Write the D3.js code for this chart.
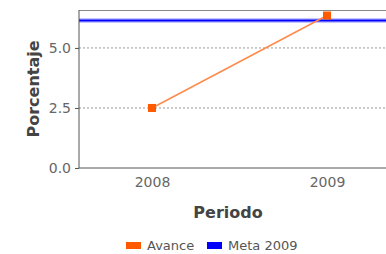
<!DOCTYPE html>
<html><head><meta charset="utf-8">
<script src="https://cdn.jsdelivr.net/npm/d3@7"></script>
<style>html,body{margin:0;background:#fff;overflow:hidden;}svg{display:block;font-family:"DejaVu Sans",sans-serif;}</style>
</head><body>
<script>
const categories = ["2008", "2009"];
const avance = [2.5, 6.35];
const meta = 6.14;
const yTicks = [0, 2.5, 5.0];
const seriesNames = ["Avance", "Meta 2009"];
const seriesColors = ["#ff5a00", "#0000ff"];

const W = 386, H = 254;
const svg = d3.select("body").append("svg").attr("width", W).attr("height", H);
const L = 79, T = 10, B = 168, R = 420;

const x = d3.scalePoint().domain(categories).range([152, 327]);
const y = d3.scaleLinear().domain([0, 6.58]).range([B, T]);

// gridlines
svg.append("g").selectAll("line").data(yTicks.filter(d => d > 0)).join("line")
  .attr("x1", L).attr("x2", R).attr("y1", d => y(d)).attr("y2", d => y(d))
  .attr("stroke", "#999").attr("stroke-width", 1).attr("stroke-dasharray", "2,2");

// plot border (top)
svg.append("line").attr("x1", L).attr("x2", R).attr("y1", T + 0.5).attr("y2", T + 0.5)
  .attr("stroke", "#888").attr("stroke-width", 1);

// meta line
svg.append("line").attr("x1", L).attr("x2", R).attr("y1", y(meta)).attr("y2", y(meta))
  .attr("stroke", "#c4c4ff").attr("stroke-width", 5);
svg.append("line").attr("x1", L).attr("x2", R).attr("y1", y(meta)).attr("y2", y(meta))
  .attr("stroke", seriesColors[1]).attr("stroke-width", 2);

// y axis
const yAxis = d3.axisLeft(y).tickValues(yTicks).tickFormat(d3.format(".1f")).tickSize(4).tickPadding(4);
const gy = svg.append("g").attr("transform", `translate(${L},0)`).call(yAxis);
gy.select(".domain").attr("stroke", "#555").attr("d", `M0,${T}V${B}`);
gy.selectAll(".tick line").attr("stroke", "#555");
gy.selectAll("text").attr("fill", "#666").style("font-size", "14px").style("font-family", "DejaVu Sans");

// x axis
const xAxis = d3.axisBottom(x).tickSize(0).tickPadding(9);
const gx = svg.append("g").attr("transform", `translate(0,${B})`).call(xAxis);
gx.select(".domain").attr("stroke", "#555").attr("d", `M${L},0H${R}`);
gx.selectAll("text").attr("fill", "#666").style("font-size", "14px").style("font-family", "DejaVu Sans");

// avance line
const data = categories.map((c, i) => ({c, v: avance[i]}));
svg.append("path").datum(data)
  .attr("d", d3.line().x(d => x(d.c)).y(d => y(d.v)))
  .attr("fill", "none").attr("stroke", "#ff8a4a").attr("stroke-width", 1.5);
svg.append("g").selectAll("rect").data(data).join("rect")
  .attr("x", d => x(d.c) - 4).attr("y", d => y(d.v) - 4).attr("width", 8).attr("height", 8)
  .attr("fill", seriesColors[0]);

// axis titles
svg.append("text").attr("x", 228).attr("y", 218).attr("text-anchor", "middle")
  .style("font-size", "16px").style("font-weight", "bold").attr("fill", "#444").text("Periodo");
svg.append("text").attr("transform", `translate(39,${(T + B) / 2}) rotate(-90)`).attr("text-anchor", "middle")
  .style("font-size", "16px").style("font-weight", "bold").attr("fill", "#444").text("Porcentaje");

// legend
const lg = svg.append("g");
const legendPos = [126, 207];
seriesNames.forEach((n, i) => {
  lg.append("rect").attr("x", legendPos[i]).attr("y", 242).attr("width", 15).attr("height", 7).attr("fill", seriesColors[i]);
  lg.append("text").attr("x", legendPos[i] + 21).attr("y", 250).style("font-size", "13px").attr("fill", "#555").text(n);
});
</script>
</body></html>
